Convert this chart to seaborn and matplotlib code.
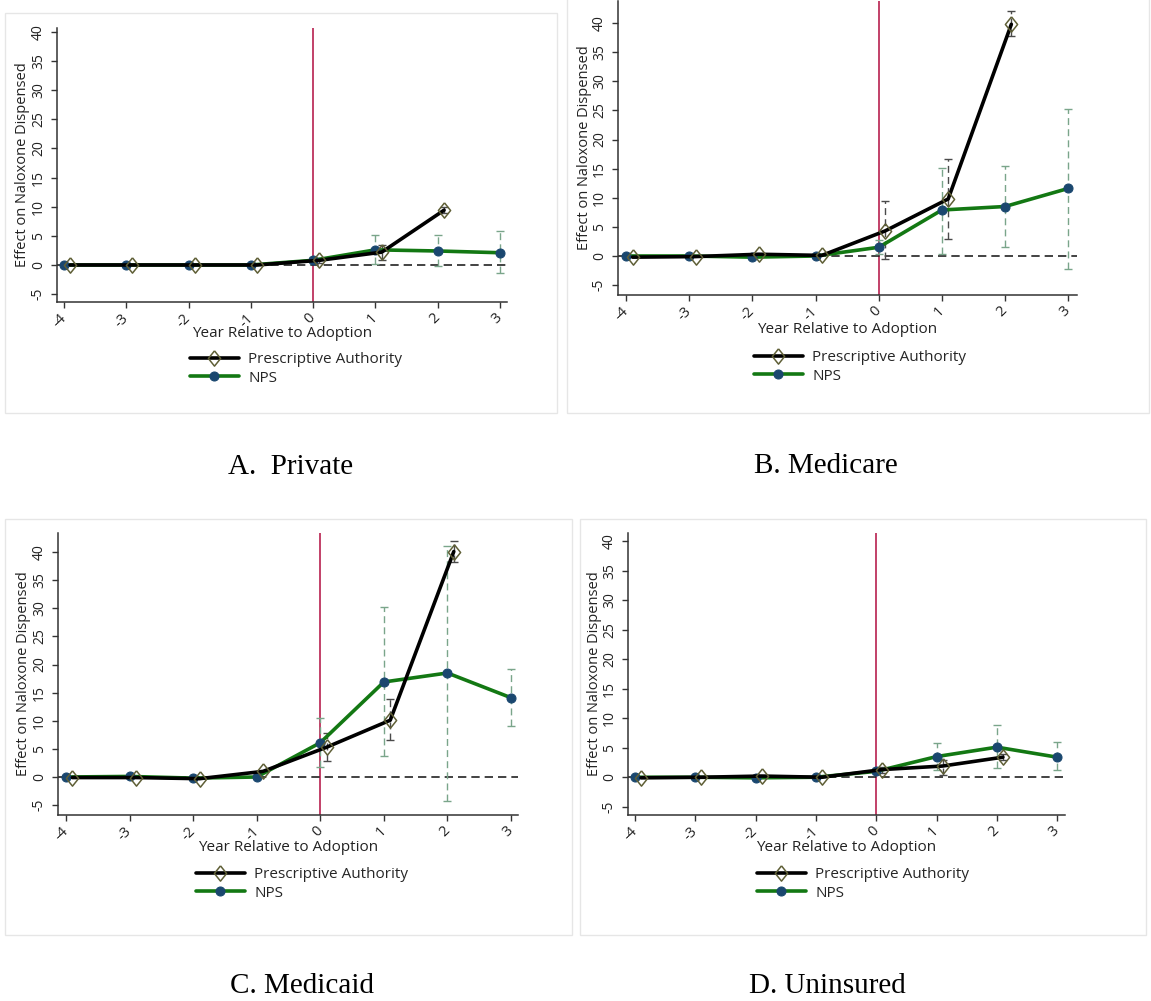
import numpy as np
import pandas as pd
import matplotlib
matplotlib.use("Agg")
import matplotlib.pyplot as plt
from matplotlib.patches import Rectangle
import seaborn as sns

# ---------------- data ----------------
years = [-4, -3, -2, -1, 0, 1, 2, 3]
pa_years = [-4, -3, -2, -1, 0, 1, 2]
tick_labels = ["-4", "-3", "-2", "-1", "0", "1", "2", "3"]
y_ticks = [-5, 0, 5, 10, 15, 20, 25, 30, 35, 40]
series_names = ["Prescriptive Authority", "NPS"]
panel_titles = ["A.  Private", "B. Medicare", "C. Medicaid", "D. Uninsured"]
nan = np.nan

# Private
pa_private = [0.0, 0.0, 0.0, 0.0, 0.8, 2.2, 9.4]
pa_private_lo = [nan, nan, nan, nan, 0.4, 0.9, 8.9]
pa_private_hi = [nan, nan, nan, nan, 1.2, 3.4, 9.9]
nps_private = [0.0, 0.0, 0.0, 0.0, 0.8, 2.6, 2.4, 2.1]
nps_private_lo = [nan, nan, nan, nan, 0.3, 0.1, -0.2, -1.4]
nps_private_hi = [nan, nan, nan, nan, 1.3, 5.1, 5.1, 5.8]

# Medicare
pa_medicare = [-0.2, -0.1, 0.3, 0.1, 4.3, 9.8, 39.8]
pa_medicare_lo = [nan, nan, nan, nan, -0.5, 2.9, 37.8]
pa_medicare_hi = [nan, nan, nan, nan, 9.4, 16.6, 42.0]
nps_medicare = [0.0, 0.0, -0.2, 0.0, 1.5, 7.9, 8.5, 11.6]
nps_medicare_lo = [nan, nan, nan, nan, 0.3, 0.3, 1.5, -2.2]
nps_medicare_hi = [nan, nan, nan, nan, 2.7, 15.2, 15.5, 25.2]

# Medicaid
pa_medicaid = [-0.1, -0.1, -0.3, 1.0, 5.3, 10.1, 40.1]
pa_medicaid_lo = [nan, nan, nan, nan, 2.9, 6.6, 38.3]
pa_medicaid_hi = [nan, nan, nan, nan, 7.9, 13.9, 42.0]
nps_medicaid = [0.0, 0.1, -0.2, 0.0, 6.1, 16.9, 18.5, 14.1]
nps_medicaid_lo = [nan, nan, nan, nan, 1.7, 3.7, -4.2, 9.0]
nps_medicaid_hi = [nan, nan, nan, nan, 10.5, 30.3, 41.1, 19.2]

# Uninsured
pa_uninsured = [-0.1, 0.0, 0.2, 0.0, 1.3, 1.9, 3.4]
pa_uninsured_lo = [nan, nan, nan, nan, 0.8, 0.3, 2.9]
pa_uninsured_hi = [nan, nan, nan, nan, 1.8, 2.9, 3.9]
nps_uninsured = [0.0, 0.0, -0.1, 0.0, 1.0, 3.5, 5.1, 3.4]
nps_uninsured_lo = [nan, nan, nan, nan, 0.5, 1.2, 1.5, 1.2]
nps_uninsured_hi = [nan, nan, nan, nan, 1.5, 5.8, 8.8, 6.0]

panels_data = [
    (pa_private, pa_private_lo, pa_private_hi, nps_private, nps_private_lo, nps_private_hi),
    (pa_medicare, pa_medicare_lo, pa_medicare_hi, nps_medicare, nps_medicare_lo, nps_medicare_hi),
    (pa_medicaid, pa_medicaid_lo, pa_medicaid_hi, nps_medicaid, nps_medicaid_lo, nps_medicaid_hi),
    (pa_uninsured, pa_uninsured_lo, pa_uninsured_hi, nps_uninsured, nps_uninsured_lo, nps_uninsured_hi),
]

# ---------------- layout (pixels) ----------------
W, H = 1151, 1001
# axes box: left, top, right, bottom ; ylim ; xlim
axes_px = [
    (57, 28, 507, 302, (-6.35, 40.65), (-4.11, 3.11)),
    (618, 1, 1077, 295, (-6.7, 43.8), (-4.13, 3.14)),
    (58, 533, 518, 815, (-6.76, 43.4), (-4.126, 3.11)),
    (628, 533, 1065, 815, (-6.4, 41.4), (-4.116, 3.13)),
]
frames_px = [(5, 13, 557, 413), (567, -2, 1149, 413), (5, 519, 572, 935), (580, 519, 1146, 935)]
legend_px = [(190, 352), (754, 350), (196, 867), (757, 867)]
caption_px = [(291, 467), (826, 466), (302, 986), (827, 986)]
xlabel_gap = [24, 27, 25, 25]

sns.set_theme(style="ticks")
plt.rcParams["font.family"] = ["Open Sans", "DejaVu Sans"]

fig = plt.figure(figsize=(W / 100, H / 100), dpi=100)
fig.patch.set_facecolor("white")

GREEN = "#137813"
NAVY = "#1a476f"
OLIVE = "#5f5f36"
RED = "#b8204f"
GREEN_CI = "#7aa58a"
BLACK_CI = "#4a4a4a"
diamond = [(0, 1), (0.8, 0), (0, -1), (-0.8, 0), (0, 1)]
PA_OFFSET = 0.1

for i, (pa, pa_lo, pa_hi, nps, nps_lo, nps_hi) in enumerate(panels_data):
    # frame
    fl, ft, fr, fb = frames_px[i]
    fig.patches.append(Rectangle((fl / W, 1 - fb / H), (fr - fl) / W, (fb - ft) / H,
                                 transform=fig.transFigure, fill=False,
                                 edgecolor="#e6e6e6", lw=1.0, zorder=0))
    l, t, r, b, ylim, xlim = axes_px[i]
    ax = fig.add_axes([l / W, 1 - b / H, (r - l) / W, (b - t) / H])
    ax.set_facecolor("white")

    pa_x = [y + PA_OFFSET for y in pa_years]

    # reference lines
    ax.axvline(0, color=RED, lw=1.2, zorder=1)
    ax.axhline(0, color="#222222", lw=1.2, ls=(0, (5, 3)), zorder=1)

    # confidence intervals
    nps_arr = np.array(nps, float)
    eb1 = ax.errorbar(years, nps_arr, yerr=[nps_arr - np.array(nps_lo), np.array(nps_hi) - nps_arr],
                      fmt="none", ecolor=GREEN_CI, elinewidth=1.0, capsize=3, capthick=1.0, zorder=2)
    eb1[2][0].set_linestyle((0, (5, 3)))
    pa_arr = np.array(pa, float)
    eb2 = ax.errorbar(pa_x, pa_arr, yerr=[pa_arr - np.array(pa_lo), np.array(pa_hi) - pa_arr],
                      fmt="none", ecolor=BLACK_CI, elinewidth=1.0, capsize=3, capthick=1.0, zorder=2)
    eb2[2][0].set_linestyle((0, (5, 3)))

    # series
    df_nps = pd.DataFrame({"x": years, "y": nps})
    df_pa = pd.DataFrame({"x": pa_x, "y": pa})
    sns.lineplot(data=df_nps, x="x", y="y", ax=ax, color=GREEN, lw=2.6,
                 marker="o", markersize=6.5, markerfacecolor=NAVY, markeredgecolor=NAVY,
                 label=series_names[1], zorder=3, legend=False)
    sns.lineplot(data=df_pa, x="x", y="y", ax=ax, color="black", lw=2.6,
                 marker=diamond, markersize=11, markerfacecolor="none", markeredgecolor=OLIVE,
                 markeredgewidth=1.1, label=series_names[0], zorder=4, legend=False)

    ax.set_xlim(*xlim)
    ax.set_ylim(*ylim)
    ax.set_xticks(years)
    ax.set_xticklabels(tick_labels, rotation=45, ha="right", va="center",
                       rotation_mode="anchor", fontsize=10.5, color="#222222")
    ax.set_yticks(y_ticks)
    ax.set_yticklabels([str(v) for v in y_ticks], rotation=90, va="center",
                       fontsize=10, color="#222222")
    ax.tick_params(axis="both", direction="out", length=4, width=1.0, color="#333333")
    ax.tick_params(axis="x", pad=6)
    ax.tick_params(axis="y", pad=4)
    for s in ["top", "right"]:
        ax.spines[s].set_visible(False)
    for s in ["left", "bottom"]:
        ax.spines[s].set_color("#333333")
        ax.spines[s].set_linewidth(1.1)

    ax.set_xlabel("Year Relative to Adoption", fontsize=11, color="#222222")
    ax.set_ylabel("Effect on Naloxone Dispensed", fontsize=10.5, color="#222222")
    hpx = b - t
    wpx = r - l
    ax.xaxis.set_label_coords(0.5, -xlabel_gap[i] / hpx)
    ax.yaxis.set_label_coords(-34 / wpx, 0.5)
    ax.yaxis.label.set_va("center")
    ax.xaxis.label.set_va("top")

    # legend
    lines = {ln.get_label(): ln for ln in ax.get_lines()}
    handles = [lines[series_names[0]], lines[series_names[1]]]
    lx, ly = legend_px[i]
    ax.legend(handles, series_names, loc="upper left",
              bbox_to_anchor=(lx / W, 1 - ly / H), bbox_transform=fig.transFigure,
              frameon=False, fontsize=11, handlelength=3.2, handletextpad=0.6,
              labelspacing=0.25, borderpad=0, borderaxespad=0, numpoints=1)

    cx, cy = caption_px[i]
    fig.text(cx / W, 1 - cy / H, panel_titles[i], family="Liberation Serif",
             fontsize=21, ha="center", va="center", color="black")

fig.savefig("out.png", dpi=100, facecolor="white")
